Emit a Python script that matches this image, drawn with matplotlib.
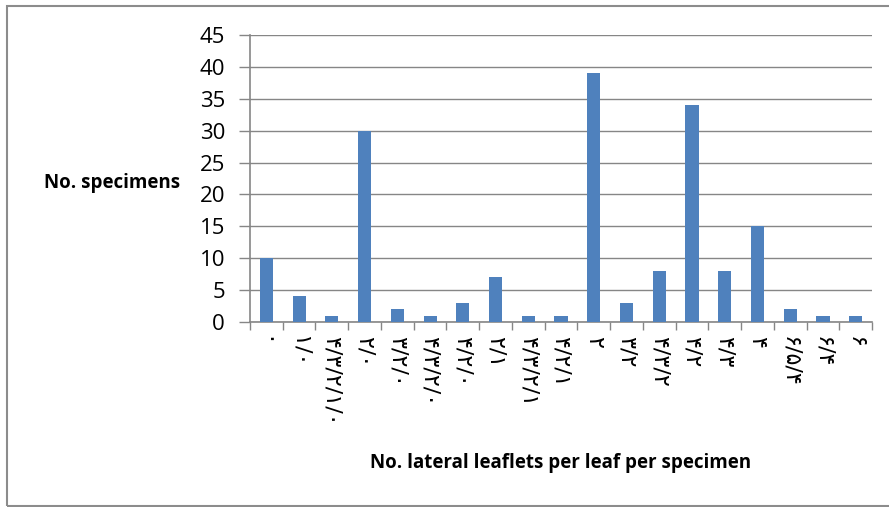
import matplotlib.pyplot as plt
from matplotlib.patches import Rectangle

# leaflet combinations (Persian digits, written so they stack high-to-low when rotated)
categories = ["۰", "۱/۰", "۴/۳/۲/۱/۰", "۲/۰", "۳/۲/۰", "۴/۳/۲/۰", "۴/۲/۰",
              "۲/۱", "۴/۳/۲/۱", "۴/۲/۱", "۲", "۳/۲", "۴/۳/۲", "۴/۲", "۴/۳",
              "۴", "۶/۵/۴", "۶/۴", "۶"]
specimens = [10, 4, 1, 30, 2, 1, 3, 7, 1, 1, 39, 3, 8, 34, 8, 15, 2, 1, 1]
y_ticks = [0, 5, 10, 15, 20, 25, 30, 35, 40, 45]

BAR_COLOR = "#4F81BD"
GRID_COLOR = "#868686"

plt.rcParams['font.family'] = ['Open Sans', 'DejaVu Sans']

fig = plt.figure(figsize=(8.89, 5.07), dpi=100)
ax = fig.add_axes([0.2812, 0.3649, 0.6998, 0.5661])

x = list(range(len(categories)))
ax.bar(x, specimens, width=0.4, color=BAR_COLOR, zorder=3)

ax.set_xlim(-0.5, len(categories) - 0.5)
ax.set_ylim(0, 45)
ax.set_yticks(y_ticks)
ax.set_yticklabels([str(v) for v in y_ticks], fontsize=16)
ax.grid(True, axis='y', color=GRID_COLOR, linewidth=1, zorder=0)

# category ticks sit between bars
ax.set_xticks([i - 0.5 for i in range(len(categories) + 1)], minor=False)
ax.set_xticklabels([])
ax.set_xticks(x, minor=True)
ax.set_xticklabels(categories, minor=True, rotation=-90, fontsize=16,
                   family='DejaVu Sans', va='top', ha='center')
ax.tick_params(axis='x', which='minor', length=0, pad=10)
ax.tick_params(axis='x', which='major', length=6, color=GRID_COLOR, width=1)
ax.tick_params(axis='y', length=8, color=GRID_COLOR, width=1, pad=10)

for side in ['top', 'right']:
    ax.spines[side].set_visible(False)
for side in ['left', 'bottom']:
    ax.spines[side].set_color(GRID_COLOR)
    ax.spines[side].set_linewidth(1.2)

fig.text(0.05, 0.639, "No. specimens", fontsize=13.5, fontweight='bold',
         va='center', ha='left')
fig.text(0.631, 0.087, "No. lateral leaflets per leaf per specimen",
         fontsize=13.5, fontweight='bold', va='center', ha='center')

# chart frame
fig.patches.append(Rectangle((7 / 889, 1 / 507), 1.0, 1 - 7 / 507,
                             transform=fig.transFigure, fill=False,
                             edgecolor="#8C8C8C", linewidth=1.5))

fig.savefig("out.png", dpi=100)
